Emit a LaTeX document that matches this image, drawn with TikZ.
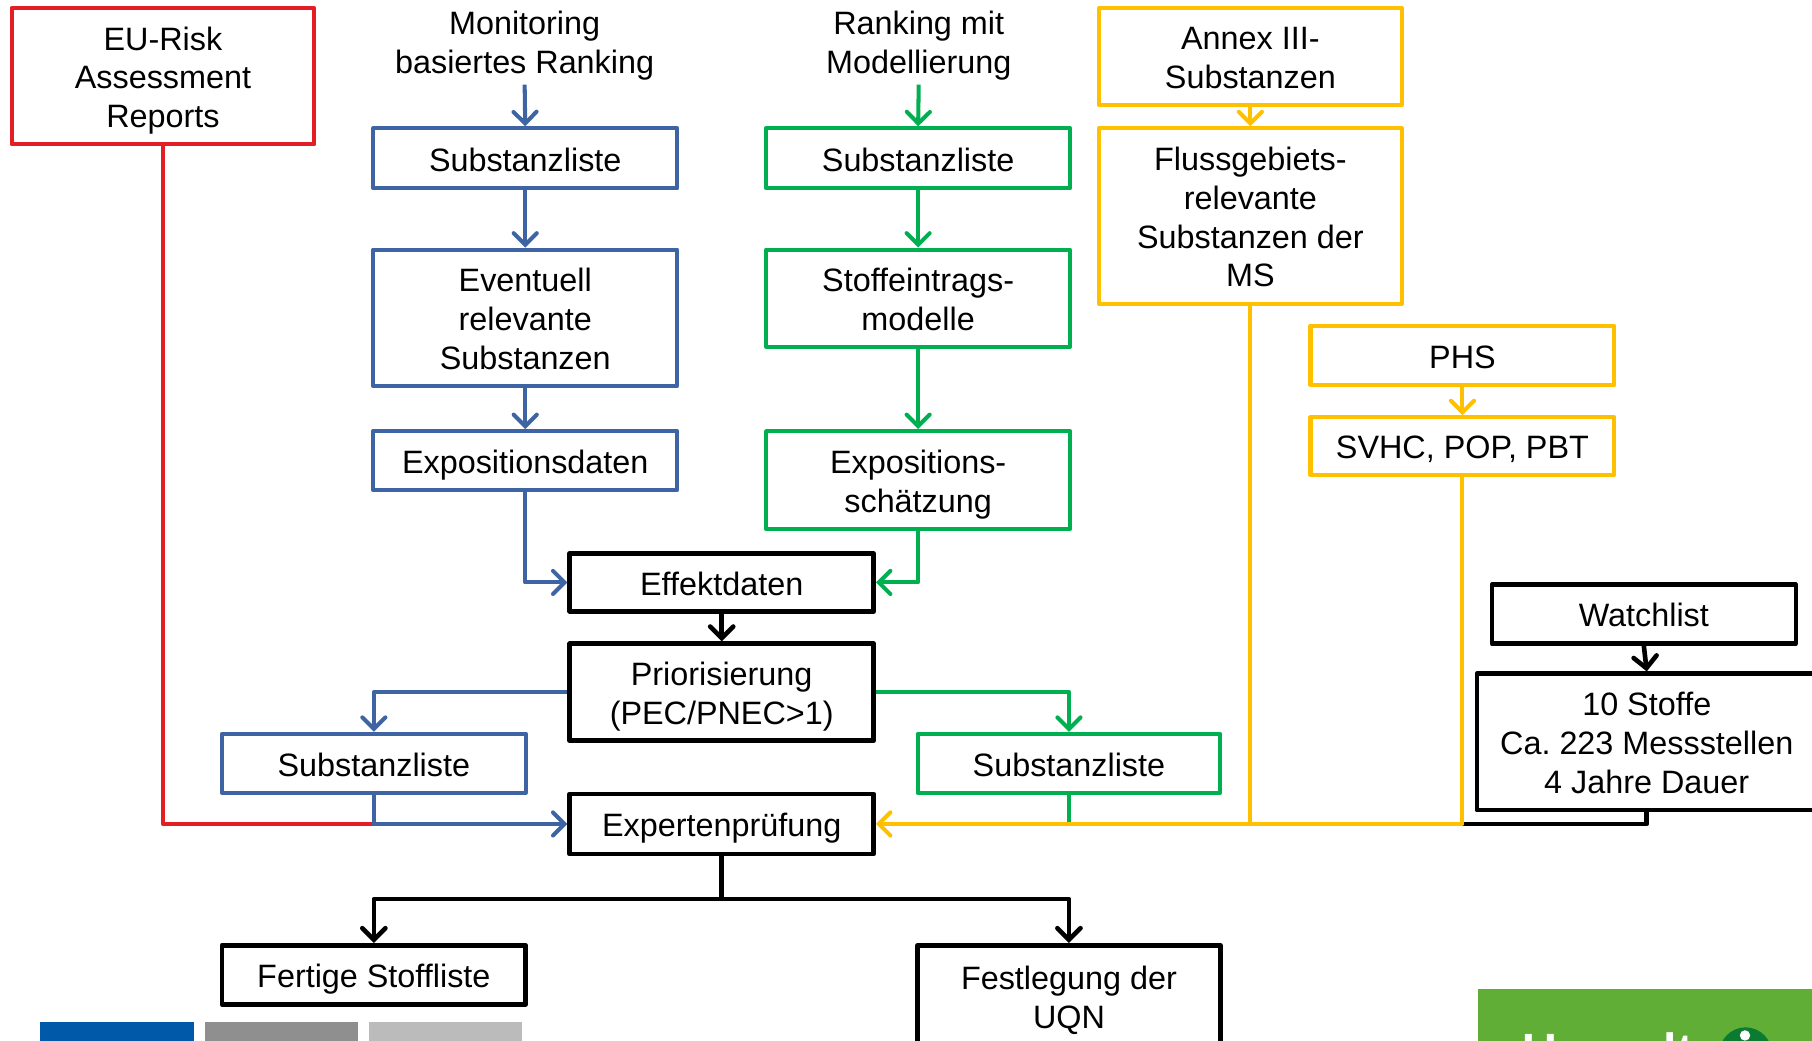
\documentclass[tikz,border=0pt]{standalone}
\usepackage{fontspec}
\setmainfont{Liberation Sans}
\usetikzlibrary{arrows.meta}
\definecolor{cred}{HTML}{E31E24}
\definecolor{cblue}{HTML}{3E64A4}
\definecolor{cgreen}{HTML}{00B050}
\definecolor{cyellow}{HTML}{FFC000}
\definecolor{barblue}{HTML}{005AA9}
\definecolor{bargrey}{HTML}{8F8F8F}
\definecolor{barlight}{HTML}{BBBBBB}
\definecolor{logogreen}{HTML}{61AE37}
\definecolor{logodark}{HTML}{0B7B32}
\newcommand\linestrut{\rule[-5.75pt]{0pt}{33.5pt}}
\tikzset{
  txt/.style={align=center, font=\fontsize{28}{33.5}\selectfont\frenchspacing,
    execute at begin node=\linestrut, execute at end node=\linestrut},
  box/.style={txt, draw, line width=3.5pt, line join=round, inner sep=0pt},
  bbox/.style={box, line width=4pt},
  lbl/.style={txt, inner sep=4pt},
  conn/.style={line width=3.5pt, line join=round},
  arr/.style={conn, -{Straight Barb[length=10pt,width=20pt,line cap=round]}},
}
\begin{document}
\begin{tikzpicture}[x=1pt,y=-1pt]
\useasboundingbox (0,0) rectangle (1568,900);

% nodes
\node[box, draw=cred, minimum width=262pt, minimum height=118pt] (eu) at (141,66) {\linestrut EU-Risk\\Assessment\\Reports};
\node[lbl] (mon) at (454,35.5) {\linestrut Monitoring\\basiertes Ranking};
\node[box, draw=cblue, minimum width=263pt, minimum height=52pt] (b1) at (454.5,137) {Substanzliste};
\node[box, draw=cblue, minimum width=263pt, minimum height=118pt] (b2) at (454.5,275) {\linestrut Eventuell\\relevante\\Substanzen};
\node[box, draw=cblue, minimum width=263pt, minimum height=51pt] (b3) at (454.5,398.5) {Expositionsdaten};

\node[lbl] (mod) at (795,35.5) {\linestrut Ranking mit\\Modellierung};
\node[box, draw=cgreen, minimum width=263pt, minimum height=52pt] (g1) at (794.5,137) {Substanzliste};
\node[box, draw=cgreen, minimum width=263pt, minimum height=84pt] (g2) at (794.5,258) {\linestrut Stoffeintrags-\\modelle};
\node[box, draw=cgreen, minimum width=263pt, minimum height=85pt] (g3) at (794.5,415.5) {\linestrut Expositions-\\schätzung};

\node[box, draw=cyellow, minimum width=262pt, minimum height=84pt] (y1) at (1082,49) {\linestrut Annex III-\\Substanzen};
\node[box, draw=cyellow, minimum width=262pt, minimum height=152pt] (y2) at (1082,187) {\linestrut Flussgebiets-\\relevante\\Substanzen der\\MS};
\node[box, draw=cyellow, minimum width=263pt, minimum height=51pt] (y3) at (1265.5,307.5) {PHS};
\node[box, draw=cyellow, minimum width=263pt, minimum height=50pt] (y4) at (1265.5,386) {SVHC, POP, PBT};

\node[bbox, minimum width=263pt, minimum height=50pt] (eff) at (624.5,504) {Effektdaten};
\node[bbox, minimum width=263pt, minimum height=84pt] (prio) at (624.5,599) {\linestrut Priorisierung\\(PEC/PNEC>1)};
\node[box, draw=cblue, minimum width=263pt, minimum height=51pt] (b4) at (323.5,660.5) {Substanzliste};
\node[box, draw=cgreen, minimum width=262pt, minimum height=51pt] (g4) at (925,660.5) {Substanzliste};
\node[bbox, minimum width=263pt, minimum height=52pt] (exp) at (624.5,713) {Expertenprüfung};

\node[bbox, minimum width=263pt, minimum height=51pt] (watch) at (1422.5,531.5) {Watchlist};
\node[bbox, minimum width=294pt, minimum height=118pt] (stoffe) at (1425,642) {\linestrut 10 Stoffe\\Ca. 223 Messstellen\\4 Jahre Dauer};

\node[bbox, minimum width=263pt, minimum height=51pt] (fert) at (323.5,843.5) {Fertige Stoffliste};
\node[bbox, minimum width=262pt, minimum height=88pt] (fest) at (925,862) {\linestrut Festlegung der\\UQN};

\coordinate (j1) at (b4.south |- exp.west);
\coordinate (j2) at (y4.south |- exp.east);
\coordinate (split) at (624.5,778);

% red
\draw[conn, cred] (eu.south) |- (j1);
% blue
\draw[arr, cblue] (mon.south) -- (b1.north);
\draw[arr, cblue] (b1.south) -- (b2.north);
\draw[arr, cblue] (b2.south) -- (b3.north);
\draw[arr, cblue] (b3.south) |- (eff.west);
\draw[arr, cblue] (prio.west) -| (b4.north);
\draw[arr, cblue] (b4.south) |- (exp.west);
% green
\draw[arr, cgreen] (mod.south) -- (g1.north);
\draw[arr, cgreen] (g1.south) -- (g2.north);
\draw[arr, cgreen] (g2.south) -- (g3.north);
\draw[arr, cgreen] (g3.south) |- (eff.east);
\draw[arr, cgreen] (prio.east) -| (g4.north);
\draw[conn, cgreen] (g4.south) -- (g4.south |- exp.east);
% black watchlist
\draw[arr, black, line width=4pt] (watch.south) -- (stoffe.north);
\draw[conn, black, line width=4pt] (stoffe.south) |- (j2);
% yellow
\draw[arr, cyellow] (y1.south) -- (y2.north);
\draw[arr, cyellow] (y3.south) -- (y4.north);
\draw[conn, cyellow] (y2.south) -- (y2.south |- exp.east);
\draw[arr, cyellow] (y4.south) |- (exp.east);
% black
\draw[arr, black, line width=4pt] (eff.south) -- (prio.north);
\draw[conn, black, line width=4pt] (exp.south) -- (split);
\draw[arr, black, line width=4pt] (split) -| (fert.north);
\draw[arr, black, line width=4pt] (split) -| (fest.north);

% footer bars
\fill[barblue] (35,884) rectangle (168,905);
\fill[bargrey] (177,884) rectangle (310,905);
\fill[barlight] (319,884) rectangle (452,905);
% logo
\fill[logogreen] (1279,856) rectangle (1575,905);
\node[anchor=base west, inner sep=0pt, text=white, font=\fontsize{41.6}{44}\selectfont\bfseries] (logo) at (1317,924) {Umwelt};
\fill[logodark] (1510.5,911.8) circle (22.8pt);
\fill[white] (1510,896) circle (4.5pt);
\end{tikzpicture}
\end{document}
